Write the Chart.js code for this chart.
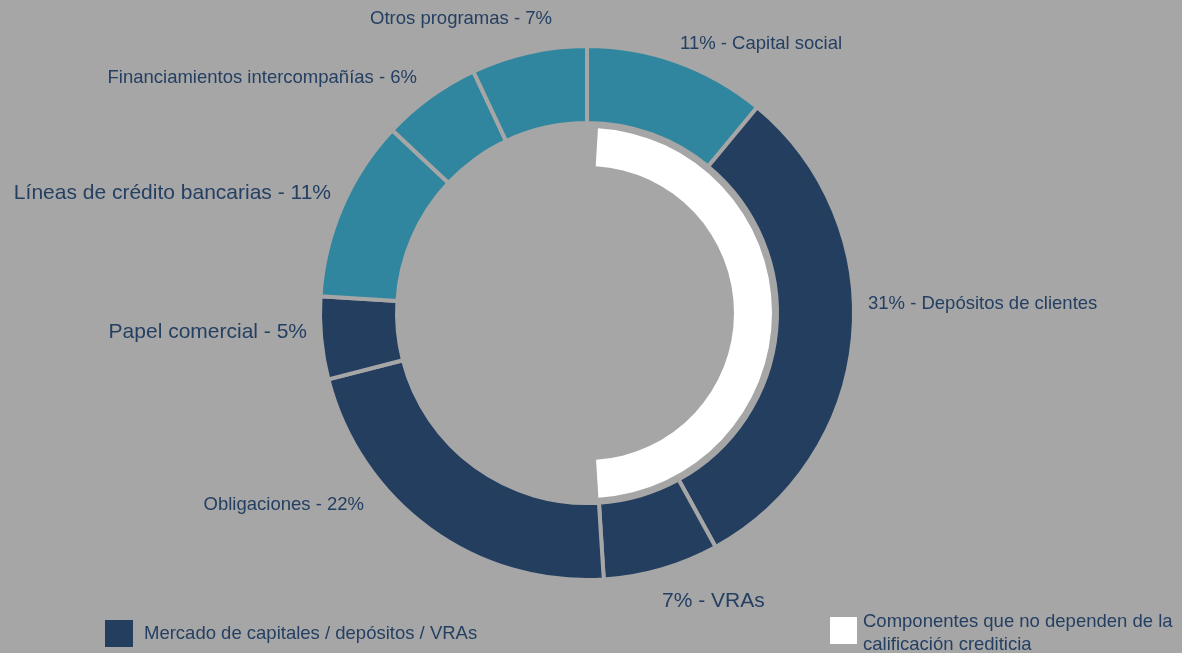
<!DOCTYPE html>
<html>
<head>
<meta charset="utf-8">
<script src="https://cdn.jsdelivr.net/npm/chart.js@4.4.1/dist/chart.umd.min.js"></script>
<style>
  html, body { margin: 0; padding: 0; background: #a6a6a6; }
  #wrap { width: 1182px; height: 653px; }
</style>
</head>
<body>
<div id="wrap"><canvas id="grafik" width="1182" height="653"></canvas></div>
<script>
// datos
const categories = [
    'Capital social',
    'Depósitos de clientes',
    'VRAs',
    'Obligaciones',
    'Papel comercial',
    'Líneas de crédito bancarias',
    'Financiamientos intercompañías',
    'Otros programas'
];
const shares = [11, 31, 7, 22, 5, 11, 6, 7];
// 'b' = banca/otros (teal), 'm' = mercado de capitales / depósitos / VRAs
const groups = ['b', 'm', 'm', 'm', 'm', 'b', 'b', 'b'];
// anillo interior: componentes que no dependen de la calificación
const independent = [49, 51];
const legendLabels = [
    'Mercado de capitales / depósitos / VRAs',
    'Componentes que no dependen de la calificación crediticia'
];

const BG = '#a6a6a6';
const TEAL = '#30869e';
const NAVY = '#243e5f';
const TXT = '#243f62';
const FONT = '"Liberation Sans", Arial, sans-serif';

// posicion de cada etiqueta respecto al centro del anillo
const labelLayout = [
    { dx: 93,   dy: -269, align: 'left',  size: 18.5, first: 'value' },
    { dx: 281,  dy: -9,   align: 'left',  size: 18.5, first: 'value' },
    { dx: 75,   dy: 288,  align: 'left',  size: 21,   first: 'value' },
    { dx: -223, dy: 192,  align: 'right', size: 18.5, first: 'name' },
    { dx: -280, dy: 19,   align: 'right', size: 21,   first: 'name' },
    { dx: -256, dy: -120, align: 'right', size: 21,   first: 'name' },
    { dx: -170, dy: -235, align: 'right', size: 18.5, first: 'name' },
    { dx: -35,  dy: -294, align: 'right', size: 18.5, first: 'name' }
];

const etiquetas = {
    id: 'etiquetas',
    afterDraw(chart) {
        const ctx = chart.ctx;
        const arcs = chart.getDatasetMeta(0).data;
        const cx = arcs[0].x, cy = arcs[0].y;
        ctx.save();
        ctx.fillStyle = TXT;
        ctx.textBaseline = 'middle';
        categories.forEach((name, i) => {
            const l = labelLayout[i];
            const txt = l.first === 'value'
                ? shares[i] + '% - ' + name
                : name + ' - ' + shares[i] + '%';
            ctx.font = l.size + 'px ' + FONT;
            ctx.textAlign = l.align;
            ctx.fillText(txt, cx + l.dx, cy + l.dy);
        });

        // leyenda
        ctx.font = '18.5px ' + FONT;
        ctx.textAlign = 'left';
        ctx.fillStyle = NAVY;
        ctx.fillRect(105, 620, 28, 27);
        ctx.fillStyle = TXT;
        ctx.fillText(legendLabels[0], 144, 634);

        ctx.fillStyle = '#ffffff';
        ctx.fillRect(830, 617, 27, 27);
        ctx.fillStyle = TXT;
        const words = legendLabels[1].split(' ');
        ctx.fillText(words.slice(0, 6).join(' '), 863, 622);
        ctx.fillText(words.slice(6).join(' '), 863, 645);
        ctx.restore();
    }
};

new Chart(document.getElementById('grafik'), {
    type: 'doughnut',
    data: {
        labels: categories,
        datasets: [
            {
                data: shares,
                backgroundColor: groups.map(g => g === 'm' ? NAVY : TEAL),
                borderColor: BG,
                borderWidth: 4,
                weight: 77
            },
            {
                data: [1],
                backgroundColor: 'rgba(0,0,0,0)',
                borderWidth: 0,
                weight: 5
            },
            {
                data: independent,
                backgroundColor: ['#ffffff', 'rgba(0,0,0,0)'],
                borderWidth: 0,
                rotation: 3.4,
                circumference: 353.2,
                weight: 38
            }
        ]
    },
    options: {
        responsive: false,
        animation: false,
        events: [],
        radius: 267,
        cutout: '55.06%',
        layout: { padding: { left: 0, right: 8, top: 0, bottom: 27 } },
        plugins: {
            legend: { display: false },
            tooltip: { enabled: false }
        }
    },
    plugins: [etiquetas]
});
</script>
</body>
</html>
